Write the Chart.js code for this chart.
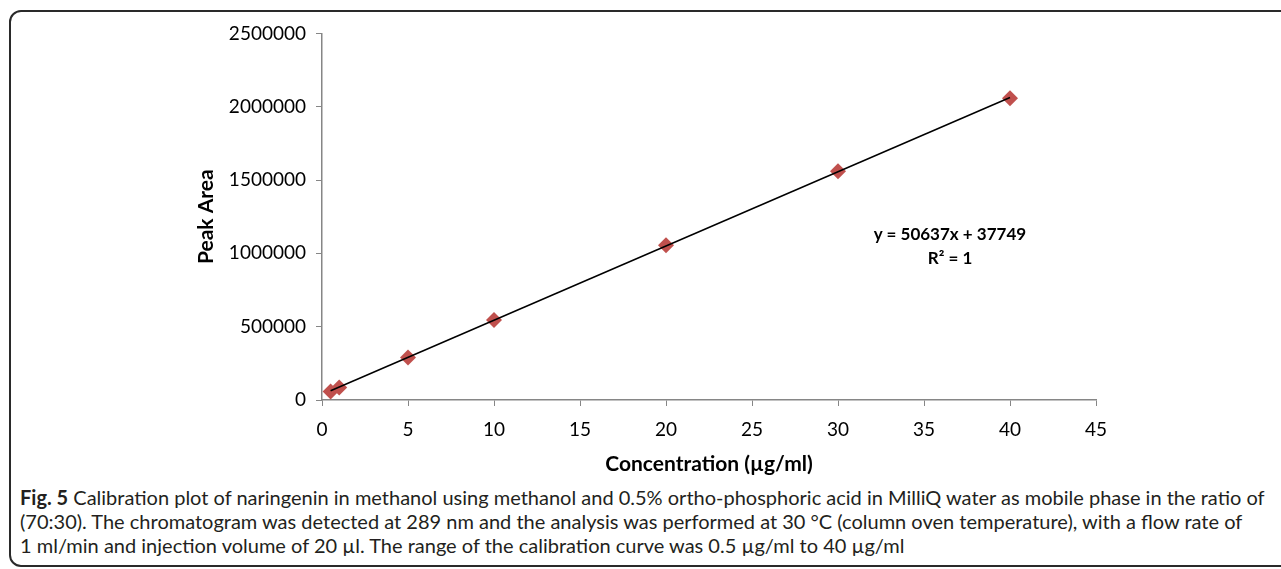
<!DOCTYPE html>
<html>
<head>
<meta charset="utf-8">
<script src="https://cdn.jsdelivr.net/npm/chart.js@4.4.0/dist/chart.umd.min.js"></script>
<style>
  body { margin: 0; background: #fff; width: 1281px; height: 569px; overflow: hidden; position: relative; font-family: Lato, sans-serif; color: #231f20; }
  #frame { position: absolute; left: 9px; top: 10px; width: 1300px; height: 553px; border: 2px solid #2a2a2a; border-radius: 12px; }
  #wrap { position: absolute; left: 190px; top: 12px; width: 950px; height: 469px; }
  #eq { position: absolute; left: 850px; top: 222px; width: 200px; text-align: center; font-weight: bold; font-size: 17px; line-height: 24px; color: #000; }
  #caption { position: absolute; left: 20px; top: 485px; font-family: Lato, sans-serif; font-size: 20px; line-height: 24px; white-space: nowrap; }
</style>
</head>
<body>
<div id="frame"></div>
<div id="wrap"><canvas id="calib"></canvas></div>
<div id="eq">y = 50637x + 37749<br>R² = 1</div>
<div id="caption">
  <div><b>Fig. 5</b> Calibration plot of naringenin in methanol using methanol and 0.5% ortho-phosphoric acid in MilliQ water as mobile phase in the ratio of</div>
  <div>(70:30). The chromatogram was detected at 289 nm and the analysis was performed at 30 °C (column oven temperature), with a flow rate of</div>
  <div>1 ml/min and injection volume of 20 µl. The range of the calibration curve was 0.5 µg/ml to 40 µg/ml</div>
</div>
<script>
// calibration data (µg/ml vs peak area)
const concentration = [0.5, 1, 5, 10, 20, 30, 40];
const peakArea = [58000, 86000, 290000, 545000, 1055000, 1560000, 2058000];
const xTicks = [0, 5, 10, 15, 20, 25, 30, 35, 40, 45];
const yTicks = [0, 500000, 1000000, 1500000, 2000000, 2500000];
const slope = 50637;
const intercept = 37749;

const points = concentration.map((c, i) => ({ x: c, y: peakArea[i] }));
const xFirst = concentration[0];
const xLast = concentration[concentration.length - 1];
const trend = [
    { x: xFirst, y: slope * xFirst + intercept },
    { x: xLast, y: slope * xLast + intercept }
];

const axisGrey = '#868686';
const tickFont = { family: 'Lato', size: 19 };
const titleFont = { family: 'Lato', size: 21, weight: 'bold' };

let calibChart = new Chart(document.getElementById('calib').getContext('2d'), {
    type: 'scatter',
    data: {
        datasets: [{
            type: 'line',
            data: trend,
            borderColor: '#000',
            borderWidth: 1.5,
            pointRadius: 0,
            fill: false
        }, {
            data: points,
            pointStyle: 'rectRot',
            pointRadius: 8,
            pointHoverRadius: 8,
            backgroundColor: '#C0504D',
            borderColor: '#C0504D',
            borderWidth: 0
        }]
    },
    options: {
        responsive: true,
        maintainAspectRatio: false,
        animation: false,
        layout: { padding: { top: 14, right: 44 } },
        plugins: { legend: { display: false }, tooltip: { enabled: false } },
        scales: {
            x: {
                type: 'linear',
                min: 0,
                max: 45,
                afterBuildTicks: (s) => { s.ticks = xTicks.map(v => ({ value: v })); },
                afterFit: (s) => { s.height = 81; },
                grid: { drawOnChartArea: false, color: axisGrey, tickLength: 6 },
                border: { color: axisGrey, width: 1.5 },
                ticks: { color: '#000', font: tickFont, padding: 12, maxRotation: 0 },
                title: { display: true, text: 'Concentration (µg/ml)', color: '#000', font: titleFont, padding: { top: 0 } }
            },
            y: {
                min: 0,
                max: 2500000,
                afterBuildTicks: (s) => { s.ticks = yTicks.map(v => ({ value: v })); },
                afterFit: (s) => { s.width = 132; },
                grid: { drawOnChartArea: false, color: axisGrey, tickLength: 6 },
                border: { color: axisGrey, width: 1.5 },
                ticks: { color: '#000', font: tickFont, padding: 10, callback: (v) => String(v) },
                title: { display: true, text: 'Peak Area', color: '#000', font: titleFont, padding: { bottom: 0 } }
            }
        }
    }
});
</script>
</body>
</html>
